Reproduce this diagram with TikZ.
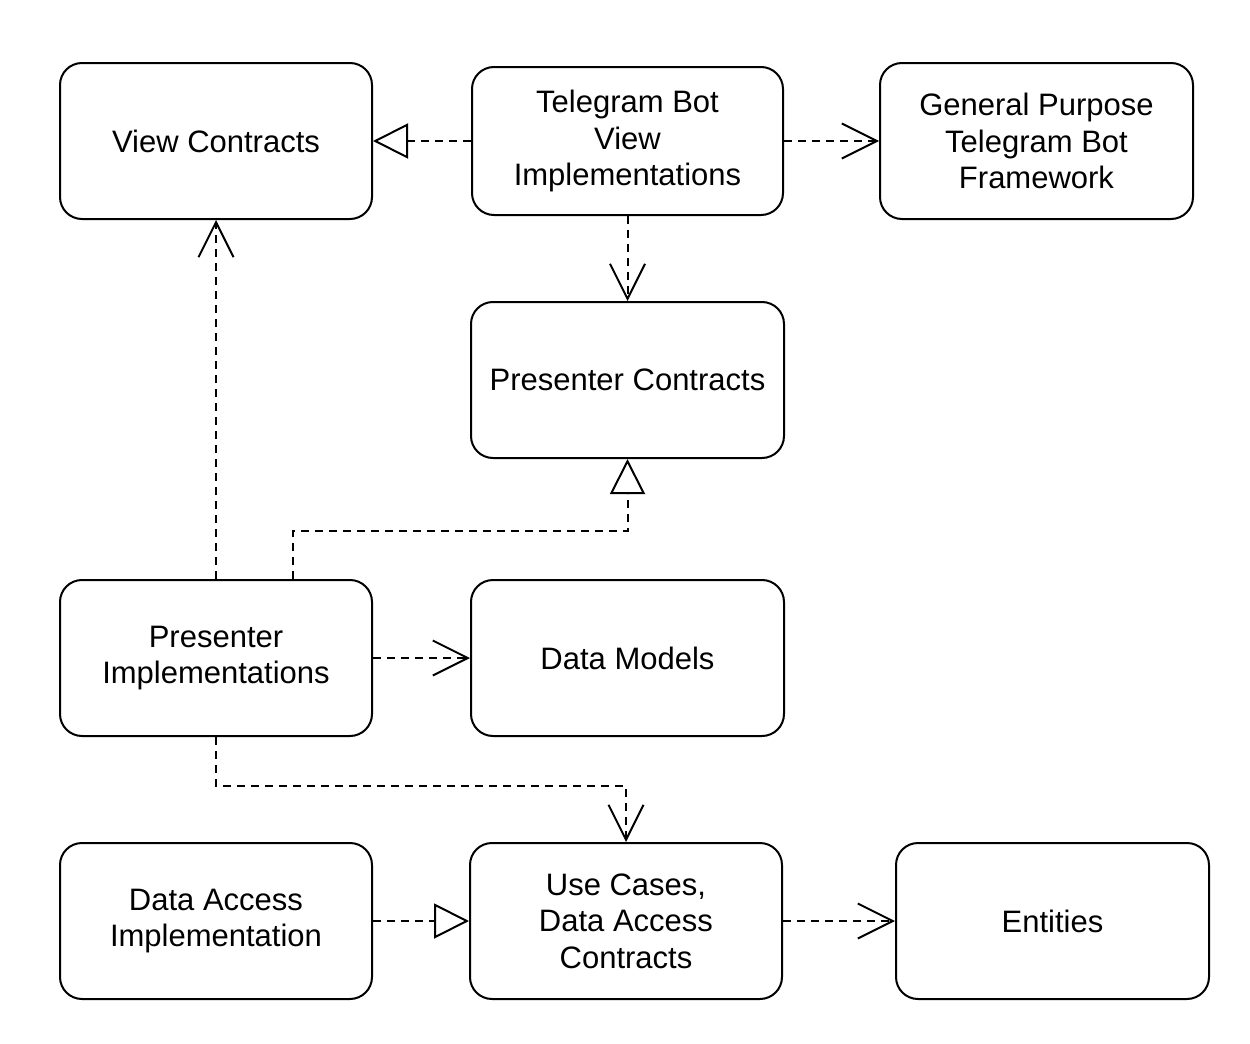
\documentclass[tikz,border=0pt]{standalone}
\usepackage{fontspec}
\setmainfont{Liberation Sans}
\usetikzlibrary{arrows.meta}
\begin{document}
\begin{tikzpicture}[x=0.5pt,y=-0.5pt,
  box/.style={draw, line width=1pt, rounded corners=11pt, align=center,
    font=\fontsize{15.5pt}{18.25pt}\selectfont, inner sep=0pt},
  ml/.style={execute at begin node={\rule{0pt}{14.3pt}}},
  w/.style={minimum width=156pt, minimum height=78pt},
  dep/.style={draw, line width=1pt, dash pattern=on 4pt off 3pt,
    -{Straight Barb[length=17.5pt,width=17.5pt,line width=1pt]}},
  real/.style={draw, line width=1pt, dash pattern=on 4pt off 3pt,
    -{Triangle[open,length=17.5pt,width=17.5pt,line width=1pt,fill=white]}}]
\useasboundingbox (0,0) rectangle (1250,1044);
\node[box,w] (vc) at (216,141) {View Contracts};
\node[box,ml,minimum width=155.5pt,minimum height=74pt] (tb) at (627.5,141) {Telegram Bot\\View\\Implementations};
\node[box,ml,minimum width=156.5pt,minimum height=78pt] (gp) at (1036.5,141) {General Purpose\\Telegram Bot\\Framework};
\node[box,minimum width=156.5pt,minimum height=78pt] (pc) at (627.5,380) {Presenter Contracts};
\node[box,ml,w] (pi) at (216,658) {Presenter\\Implementations};
\node[box,minimum width=156.5pt,minimum height=78pt] (dm) at (627.5,658) {Data Models};
\node[box,ml,w] (dai) at (216,921) {Data Access\\Implementation};
\node[box,ml,w] (uc) at (626,921) {Use Cases,\\Data Access\\Contracts};
\node[box,minimum width=156.5pt,minimum height=78pt] (en) at (1052.5,921) {Entities};
\coordinate (c1) at (293,531);
\coordinate (c2) at (216,786);
\path[real] (tb.west) -- (vc.east);
\path[dep] (tb.east) -- (gp.west);
\path[dep] (tb.south) -- (pc.north);
\path[dep] (pi.north) -- (vc.south);
\path[real] (pi.north -| c1) -- (c1) -| (pc.south);
\path[dep] (pi.east) -- (dm.west);
\path[dep] (pi.south) -- (c2) -| (uc.north);
\path[real] (dai.east) -- (uc.west);
\path[dep] (uc.east) -- (en.west);
\end{tikzpicture}
\end{document}
